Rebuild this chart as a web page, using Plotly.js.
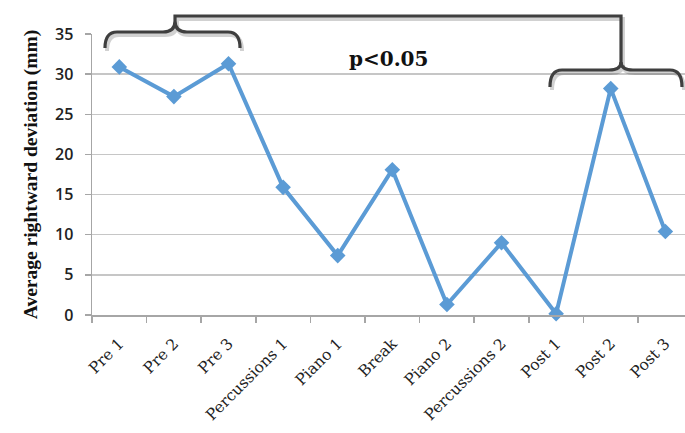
<!DOCTYPE html>
<html>
<head>
<meta charset="utf-8">
<script src="https://cdn.plot.ly/plotly-3.0.1.min.js"></script>
<style>html,body{margin:0;padding:0;background:#fff;}#chart{width:685px;height:433px;}</style>
</head>
<body>
<div id="chart"></div>
<script>
const categories = ["Pre 1","Pre 2","Pre 3","Percussions 1","Piano 1","Break","Piano 2","Percussions 2","Post 1","Post 2","Post 3"];
const deviation = [30.9, 27.2, 31.3, 15.9, 7.4, 18.1, 1.3, 9.0, 0.15, 28.2, 10.4];
const yTicks = [0,5,10,15,20,25,30,35];
const yTitle = "Average rightward deviation (mm)";
const sigLabel = "p<0.05";

const W = 685, H = 433, ML = 92, MR = 0, MT = 34, MB = 118;
const PW = W - ML - MR, PH = H - MT - MB;
const px = x => ((x - ML) / PW).toFixed(4);
const py = y => ((H - MB - y) / PH).toFixed(4);
function pathOf(cmds, dx, dy) {
  dx = dx || 0; dy = dy || 0;
  return cmds.map(c => {
    const op = c[0]; const pts = c.slice(1);
    let s = op;
    for (let i = 0; i < pts.length; i += 2) s += (i ? ' ' : '') + px(pts[i] + dx) + ',' + py(pts[i+1] + dy);
    return s;
  }).join(' ');
}
const braceL = [["M",105,48],["Q",105,32,117,32],["L",163,32],["Q",175,32,175,21],["Q",175,32,187,32],["L",228,32],["Q",240,32,240,48]];
const connector = [["M",175,21],["L",175,16],["L",621,16],["L",621,65]];
const braceR = [["M",550,87],["Q",550,70,562,70],["L",609,70],["Q",621,70,621,62],["Q",621,70,633,70],["L",670,70],["Q",682,70,682,87]];
const shapes = [];
[braceL, connector, braceR].forEach(p => {
  shapes.push({type:'path', xref:'paper', yref:'paper', path: pathOf(p, 2, 3), line:{color:'rgba(0,0,0,0.18)', width:4}, layer:'above'});
});
[braceL, connector, braceR].forEach(p => {
  shapes.push({type:'path', xref:'paper', yref:'paper', path: pathOf(p), line:{color:'#3f3f3f', width:3.2}, layer:'above'});
});

const trace = {
  x: categories, y: deviation, type: 'scatter', mode: 'lines+markers',
  line: {color: '#5b9bd5', width: 4},
  marker: {symbol: 'diamond', size: 12, color: '#5b9bd5'},
  cliponaxis: false, hoverinfo: 'skip'
};
const layout = {
  width: W, height: H,
  margin: {l: ML, r: MR, t: MT, b: MB, pad: 0},
  paper_bgcolor: '#fff', plot_bgcolor: '#fff',
  showlegend: false,
  xaxis: {
    type: 'category', range: [-0.5, 10.36], fixedrange: true,
    showgrid: false, zeroline: false,
    showline: true, linecolor: '#a6a6a6', linewidth: 1.5,
    ticks: 'outside', ticklen: 6, tickcolor: '#a6a6a6', tickwidth: 1.5,
    tickson: 'boundaries',
    tickangle: -45,
    ticklabelstandoff: 12,
    tickfont: {family: 'DejaVu Serif', size: 15.5, color: '#222'}
  },
  yaxis: {
    range: [0, 35], fixedrange: true,
    tickvals: yTicks, ticktext: yTicks.map(String),
    showgrid: true, gridcolor: '#c6c6c6', gridwidth: 1.5,
    zeroline: false,
    showline: true, linecolor: '#a6a6a6', linewidth: 1.5,
    ticks: 'outside', ticklen: 6, tickcolor: '#a6a6a6', tickwidth: 1.5,
    ticklabelstandoff: 8,
    tickfont: {family: 'Open Sans', size: 16, color: '#222', weight: 600},
    title: {text: yTitle, font: {family: 'Liberation Serif', size: 19.5, color: '#111', weight: 'bold'}, standoff: 12}
  },
  shapes: shapes,
  annotations: [{
    text: sigLabel, xref: 'paper', yref: 'paper',
    x: +px(389), y: +py(59), xanchor: 'center', yanchor: 'middle', showarrow: false,
    font: {family: 'DejaVu Serif', size: 20, color: '#111', weight: 'bold'}
  }]
};
Plotly.newPlot('chart', [trace], layout, {staticPlot: true, displayModeBar: false});
</script>
</body>
</html>
